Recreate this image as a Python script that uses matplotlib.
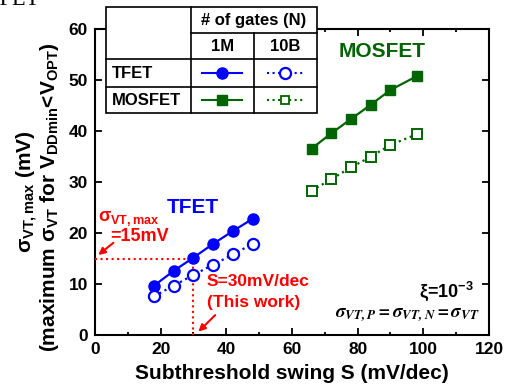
import matplotlib
matplotlib.use("Agg")
import matplotlib.pyplot as plt
from matplotlib.patches import Rectangle

plt.rcParams['font.family'] = ['Liberation Sans', 'DejaVu Sans']
plt.rcParams['font.weight'] = 'bold'
plt.rcParams['mathtext.fontset'] = 'custom'
plt.rcParams['mathtext.rm'] = 'Liberation Sans:bold'
plt.rcParams['mathtext.it'] = 'Liberation Sans:bold'
plt.rcParams['mathtext.bf'] = 'Liberation Sans:bold'
plt.rcParams['mathtext.sf'] = 'Liberation Sans:bold'

# ---- data ----
tfet_s = [18, 24, 30, 36, 42, 48]
tfet_1m = [9.7, 12.6, 15.2, 17.9, 20.4, 22.8]
tfet_10b = [7.6, 9.7, 11.8, 13.8, 15.8, 17.9]
mos_s = [66, 72, 78, 84, 90, 98]
mos_1m = [36.6, 39.6, 42.4, 45.2, 48.1, 50.8]
mos_10b = [28.3, 30.6, 32.9, 35.0, 37.3, 39.4]
xticks = [0, 20, 40, 60, 80, 100, 120]
yticks = [0, 10, 20, 30, 40, 50, 60]
s_work = 30
sigma_max = 15

BLUE = '#0000FF'
GREEN = '#006400'
RED = '#FF0000'

W, H = 510, 389
fig = plt.figure(figsize=(W / 100, H / 100), dpi=100)
L, R, T, B = 95, 489, 29.3, 335
ax = fig.add_axes([L / W, 1 - B / H, (R - L) / W, (B - T) / H])

ax.plot(tfet_s, tfet_1m, '-o', color=BLUE, lw=1.6, ms=8, mfc=BLUE, mec=BLUE, zorder=4)
ax.plot(tfet_s, tfet_10b, ':o', color=BLUE, lw=1.6, ms=8, mfc='white', mec=BLUE, mew=1.6, zorder=4)
ax.plot(mos_s, mos_1m, '-s', color=GREEN, lw=1.6, ms=7.7, mfc=GREEN, mec=GREEN, zorder=4)
ax.plot(mos_s, mos_10b, ':s', color=GREEN, lw=1.6, ms=7, mfc='white', mec=GREEN, mew=1.4, zorder=4)

# reference dotted lines
ax.plot([0, s_work], [sigma_max, sigma_max], ':', color=RED, lw=1.5, zorder=3)
ax.plot([s_work, s_work], [0, sigma_max], ':', color=RED, lw=1.5, zorder=3)

ax.set_xlim(0, 120)
ax.set_ylim(0, 60)
ax.set_xticks(xticks)
ax.set_yticks(yticks)
ax.set_xticks([10, 30, 50, 70, 90, 110], minor=True)
ax.tick_params(axis='both', which='major', direction='in', length=5, width=1.3,
               top=True, right=True, labelsize=12.5, pad=5)
ax.tick_params(axis='x', which='minor', direction='in', length=2.5, width=1.3, top=True)
for lab in ax.get_xticklabels() + ax.get_yticklabels():
    lab.set_fontweight('bold')
for sp in ax.spines.values():
    sp.set_linewidth(1.5)

ax.set_xlabel('Subthreshold swing S (mV/dec)', fontsize=15, fontweight='bold', labelpad=5)

# y label (two lines)
fig.text(27 / W, 1 - 192 / H, r'$\sigma_{VT,max}$ (mV)', rotation=90, ha='center', va='center',
         fontsize=15, fontweight='bold')
fig.text(50 / W, 1 - 197 / H, r'(maximum $\sigma_{VT}$ for V$_{DDmin}$<V$_{OPT}$)', rotation=90,
         ha='center', va='center', fontsize=15, fontweight='bold')

# annotations
ax.text(29.9, 25.0, 'TFET', color=BLUE, fontsize=15, fontweight='bold', ha='center', va='center')
ax.text(87.6, 55.7, 'MOSFET', color=GREEN, fontsize=15, fontweight='bold', ha='center', va='center')
ax.text(1.0, 22.8, r'$\sigma_{VT,max}$', color=RED, fontsize=13, ha='left', va='center')
ax.text(4.6, 19.4, '=15mV', color=RED, fontsize=13, fontweight='bold', ha='left', va='center')
ax.annotate('', xy=(1.0, 15.7), xytext=(5.6, 18.1),
            arrowprops=dict(arrowstyle='-|>', color=RED, lw=1.5, mutation_scale=10,
                            shrinkA=0, shrinkB=0))
ax.text(34.0, 10.5, 'S=30mV/dec', color=RED, fontsize=12.5, fontweight='bold', ha='left', va='center')
ax.text(34.0, 6.4, '(This work)', color=RED, fontsize=12.5, fontweight='bold', ha='left', va='center')
ax.annotate('', xy=(31.5, 0.65), xytext=(36.6, 3.9),
            arrowprops=dict(arrowstyle='-|>', color=RED, lw=1.5, mutation_scale=10,
                            shrinkA=0, shrinkB=0))
ax.text(115.2, 8.6, r'$\xi$=10$^{-3}$', color='black', fontsize=13, ha='right', va='center')
ax.text(117.3, 3.9, r'$\mathbfit{\sigma_{VT,P}=\sigma_{VT,N}=\sigma_{VT}}$', color='black',
        fontsize=13.5, ha='right', va='center', math_fontfamily='stix')

# ---- table overlay (pixel coords) ----
ov = fig.add_axes([0, 0, 1, 1], zorder=10)
ov.set_xlim(0, W)
ov.set_ylim(H, 0)
ov.axis('off')
x0, x1, x2, x3 = 105.7, 191, 254.3, 316.7
y0, y1, y2, y3, y4 = 7.3, 33.3, 59.3, 87.3, 113.3
ov.add_patch(Rectangle((x0, y0), x3 - x0, y4 - y0, facecolor='white', edgecolor='black', lw=1.2))
lk = dict(color='black', lw=1.2)
ov.plot([x1, x1], [y0, y4], **lk)
ov.plot([x2, x2], [y1, y4], **lk)
ov.plot([x1, x3], [y1, y1], **lk)
ov.plot([x0, x3], [y2, y2], **lk)
ov.plot([x0, x3], [y3, y3], **lk)
ov.text((x1 + x3) / 2, (y0 + y1) / 2, '# of gates (N)', ha='center', va='center', fontsize=12, fontweight='bold')
ov.text((x1 + x2) / 2, (y1 + y2) / 2, '1M', ha='center', va='center', fontsize=12, fontweight='bold')
ov.text((x2 + x3) / 2, (y1 + y2) / 2, '10B', ha='center', va='center', fontsize=12, fontweight='bold')
ov.text(111.5, (y2 + y3) / 2, 'TFET', ha='left', va='center', fontsize=12, fontweight='bold')
ov.text(111.5, (y3 + y4) / 2, 'MOSFET', ha='left', va='center', fontsize=12, fontweight='bold')
ry1 = (y2 + y3) / 2
ry2 = (y3 + y4) / 2
ov.plot([201.7, 241.7], [ry1, ry1], '-', color=BLUE, lw=1.5)
ov.plot([222], [ry1], 'o', color=BLUE, ms=8)
ov.plot([266.7, 305], [ry1, ry1], ':', color=BLUE, lw=1.5)
ov.plot([285.5], [ry1], 'o', mfc='white', mec=BLUE, mew=1.6, ms=8)
ov.plot([201.7, 241.7], [ry2, ry2], '-', color=GREEN, lw=1.5)
ov.plot([222], [ry2], 's', color=GREEN, ms=6.5)
ov.plot([266.7, 305], [ry2, ry2], ':', color=GREEN, lw=1.5)
ov.plot([285.5], [ry2], 's', mfc='white', mec=GREEN, mew=1.3, ms=6)

# clipped heading text at very top-left (cropped in the reference too)
fig.text(40 / W, 1 - 5 / H, 'TFET', family='Liberation Serif', fontsize=16, ha='right',
         va='baseline', fontweight='normal')

fig.savefig('out.png', dpi=100)
